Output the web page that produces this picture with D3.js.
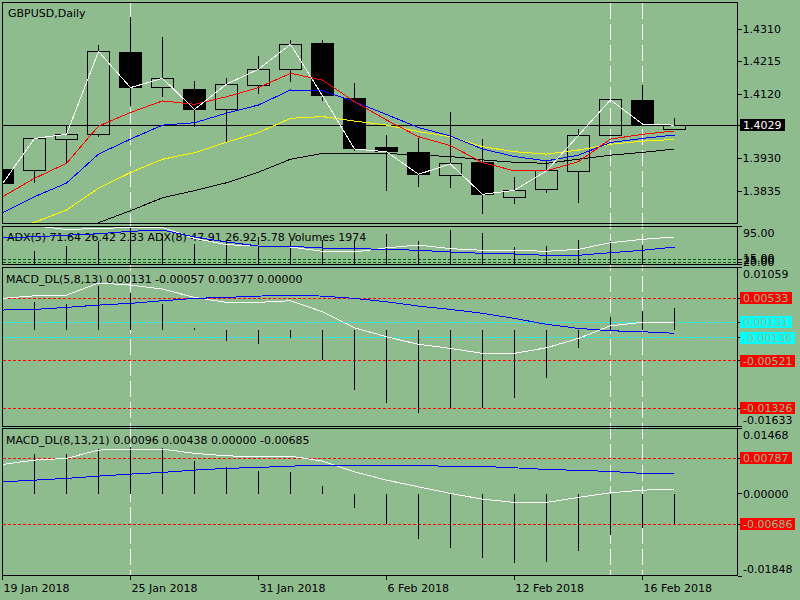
<!DOCTYPE html>
<html>
<head>
<meta charset="utf-8">
<script src="https://cdn.jsdelivr.net/npm/d3@7/dist/d3.min.js"></script>
<style>
  body { margin: 0; background: #8fbc8f; }
  svg { display: block; }
  text { font-family: "DejaVu Sans", sans-serif; font-size: 11px; }
</style>
</head>
<body>
<svg id="chart" width="800" height="600"></svg>
<script>
// GBPUSD daily bars
const dates = ["19 Jan 2018", "22 Jan 2018", "23 Jan 2018", "24 Jan 2018", "25 Jan 2018", "26 Jan 2018",
  "29 Jan 2018", "30 Jan 2018", "31 Jan 2018", "1 Feb 2018", "2 Feb 2018", "5 Feb 2018", "6 Feb 2018",
  "7 Feb 2018", "8 Feb 2018", "9 Feb 2018", "12 Feb 2018", "13 Feb 2018", "14 Feb 2018", "15 Feb 2018",
  "16 Feb 2018", "19 Feb 2018"];
const open  = [1.3898, 1.3895, 1.3988, 1.4002, 1.4243, 1.4139, 1.4134, 1.4075, 1.4145, 1.4193, 1.4269,
  1.4106, 1.3962, 1.3949, 1.3881, 1.3918, 1.3817, 1.3841, 1.3894, 1.3999, 1.4100, 1.4017];
const high  = [1.3900, 1.3990, 1.4026, 1.4264, 1.4347, 1.4288, 1.4158, 1.4166, 1.4232, 1.4279, 1.4279,
  1.4153, 1.4000, 1.3992, 1.4067, 1.3988, 1.3876, 1.3927, 1.4018, 1.4105, 1.4147, 1.4051];
const low   = [1.3855, 1.3858, 1.3917, 1.3995, 1.4085, 1.4112, 1.4024, 1.3980, 1.4120, 1.4156, 1.4101,
  1.3954, 1.3837, 1.3849, 1.3846, 1.3768, 1.3797, 1.3831, 1.3800, 1.3997, 1.4030, 1.4017];
const close = [1.3857, 1.3990, 1.4002, 1.4245, 1.4139, 1.4166, 1.4075, 1.4149, 1.4193, 1.4266, 1.4115,
  1.3959, 1.3951, 1.3885, 1.3915, 1.3826, 1.3838, 1.3895, 1.3999, 1.4103, 1.4032, 1.4029];

// moving averages on the price pane
const maRed    = [1.3819, 1.3873, 1.3917, 1.4026, 1.4066, 1.4100, 1.4090, 1.4112, 1.4139, 1.4181, 1.4161,
  1.4098, 1.4044, 1.3995, 1.3969, 1.3919, 1.3895, 1.3895, 1.3922, 1.3988, 1.4002, 1.4012];
const maBlue   = [1.3772, 1.3819, 1.3859, 1.3944, 1.3988, 1.4029, 1.4036, 1.4064, 1.4088, 1.4132, 1.4130,
  1.4098, 1.4060, 1.4022, 1.3997, 1.3959, 1.3937, 1.3924, 1.3941, 1.3978, 1.3990, 1.4000];
const maYellow = [1.3716, 1.3744, 1.3780, 1.3844, 1.3890, 1.3929, 1.3948, 1.3979, 1.4007, 1.4049, 1.4054,
  1.4041, 1.4029, 1.4010, 1.3995, 1.3966, 1.3951, 1.3944, 1.3956, 1.3973, 1.3982, 1.3987];
const maBlack  = [null, null, null, 1.3743, 1.3778, 1.3816, 1.3837, 1.3860, 1.3891, 1.3929, 1.3946,
  1.3946, 1.3946, 1.3941, 1.3937, 1.3927, 1.3920, 1.3917, 1.3929, 1.3941, 1.3949, 1.3959];

// ADX / volumes pane
const adx5 = [97.5, 96.5, 88.7, 90.8, 92.9, 92.9, 70.0, 56.7, 54.0, 51.8, 42.8, 41.3, 50.0, 56.0, 48.3,
  44.9, 44.9, 42.8, 47.0, 60.9, 68.0, 73.0];
const adx8 = [70.8, 73.5, 76.5, 79.8, 84.9, 87.6, 72.9, 62.4, 53.9, 53.3, 49.7, 48.3, 47.0, 44.9, 41.3,
  38.6, 37.1, 34.4, 34.4, 39.8, 44.9, 51.8];
const volumes = [26000, 16400, 22600, 28700, 46000, 37000, 25400, 28700, 33700, 28700, 29600, 30800,
  37000, 28700, 42300, 38300, 21300, 22600, 30800, 28700, 23800, 1974];

// MACD_DL(5,8,13)
const macd1Main = [0.00532, 0.00576, 0.00588, 0.00791, 0.00757, 0.00690, 0.00549, 0.00465, 0.00465,
  0.00492, 0.00306, 0.00035, -0.00117, -0.00245, -0.00313, -0.00397, -0.00397, -0.00303, -0.00144,
  0.00069, 0.00127, 0.00131];
const macd1Signal = [0.00335, 0.00346, 0.00380, 0.00419, 0.00448, 0.00492, 0.00532, 0.00549, 0.00571,
  0.00583, 0.00571, 0.00532, 0.00475, 0.00402, 0.00346, 0.00279, 0.00194, 0.00093, 0.00025,
  -0.00015, -0.00032, -0.00057];
const macd1Hist = [0.0039, 0.00475, 0.00431, 0.00745, 0.00617, 0.00431, 0.0003, -0.00189, -0.00240,
  -0.00134, -0.00510, -0.01017, -0.01232, -0.01401, -0.01317, -0.01327, -0.01148, -0.00810, -0.00303,
  0.00221, 0.00318, 0.00377];

// MACD_DL(8,13,21)
const macd2Main = [0.00652, 0.00749, 0.00787, 0.00973, 0.00996, 0.00996, 0.00899, 0.00845, 0.00823,
  0.00839, 0.00726, 0.00487, 0.00300, 0.00150, 0.00002, -0.00126, -0.00200, -0.00200, -0.00087,
  0.00016, 0.00076, 0.00096];
const macd2Signal = [0.00262, 0.00300, 0.00339, 0.00390, 0.00435, 0.00473, 0.00525, 0.00563, 0.00585,
  0.00614, 0.00630, 0.00630, 0.00630, 0.00630, 0.00608, 0.00608, 0.00576, 0.00540, 0.00518, 0.00496,
  0.00451, 0.00438];
const macd2Hist = [0.0078, 0.00877, 0.00877, 0.00996, 0.01047, 0.01011, 0.00726, 0.00585, 0.00502,
  0.00473, 0.00166, -0.00334, -0.00686, -0.01029, -0.01217, -0.01455, -0.01567, -0.01531, -0.01285,
  -0.00933, -0.00783, -0.00685];

// scales, levels and labels
const priceRange = [1.3742, 1.4390];
const priceTicks = [1.4310, 1.4215, 1.4120, 1.3930, 1.3835];
const adxRange = [15, 95];
const adxLevels = [25, 20];
const macd1Range = [-0.01633, 0.01059];
const macd1RedLevels = [0.00533, -0.00521, -0.01326];
const macd1CyanLevels = [0.00131, -0.00136];
const macd2Range = [-0.01848, 0.01468];
const macd2RedLevels = [0.00787, -0.00686];
const markerBars = [4, 19, 20];
const dateTicks = [0, 4, 8, 12, 16, 20];

const titleMain = "GBPUSD,Daily";
const titleAdx = "ADX(5) 71.64 26.42 2.33 ADX(8) 47.91 26.92 5.78 Volumes 1974";
const titleMacd1 = "MACD_DL(5,8,13) 0.00131 -0.00057 0.00377 0.00000";
const titleMacd2 = "MACD_DL(8,13,21) 0.00096 0.00438 0.00000 -0.00685";

const bg = "#8fbc8f";
const L = 2.5, R = 737.5;
const panes = {
  main:  {top: 2.5,   bottom: 223.5},
  adx:   {top: 226.5, bottom: 264.5},
  macd1: {top: 267.5, bottom: 426.5},
  macd2: {top: 428.5, bottom: 575.5}
};

const svg = d3.select("#chart").attr("shape-rendering", "crispEdges");
svg.append("rect").attr("width", 800).attr("height", 600).attr("fill", bg);

const x = d3.scaleLinear().domain([0, dates.length - 1]).range([2.5, 2.5 + 32 * (dates.length - 1)]);
const yMain = d3.scaleLinear().domain(priceRange).range([223, 2]);
const yAdx = d3.scaleLinear().domain(adxRange).range([264.5, 226.5]);
const yVol = d3.scaleLinear().domain([0, d3.max(volumes)]).range([264.5, 227.2]);
const yM1 = d3.scaleLinear().domain(macd1Range).range([426.5, 267.2]);
const yM2 = d3.scaleLinear().domain(macd2Range).range([576, 428]);

const bars = d3.range(dates.length);
const defs = svg.append("defs");
Object.entries(panes).forEach(([id, p]) => {
  defs.append("clipPath").attr("id", "clip-" + id)
    .append("rect").attr("x", L).attr("y", p.top).attr("width", R - L).attr("height", p.bottom - p.top);
});

// vertical dashed markers through all panes
svg.append("g").selectAll("line").data(markerBars).join("line")
  .attr("x1", d => x(d)).attr("x2", d => x(d))
  .attr("y1", panes.main.top).attr("y2", panes.macd2.bottom)
  .attr("stroke", "#fff").attr("stroke-dasharray", "16,5");

// pane titles
[[titleMain, 8, 17], [titleAdx, 7, 241], [titleMacd1, 6, 282.5], [titleMacd2, 6, 444]].forEach(t => {
  svg.append("text").attr("x", t[1]).attr("y", t[2]).attr("fill", "#000").text(t[0]);
});

function hLevels(g, levels, scale, color) {
  g.selectAll(null).data(levels).join("line")
    .attr("x1", L).attr("x2", R)
    .attr("y1", d => scale(d)).attr("y2", d => scale(d))
    .attr("stroke", color).attr("stroke-dasharray", "3,2");
}
function seriesLine(g, values, scale, color) {
  const line = d3.line().defined(d => values[d] != null).x(d => x(d)).y(d => scale(values[d]));
  g.append("path").attr("d", line(bars)).attr("fill", "none").attr("stroke", color);
}
function histogram(g, values, scale) {
  g.selectAll(null).data(bars).join("line")
    .attr("x1", d => x(d)).attr("x2", d => x(d))
    .attr("y1", scale(0)).attr("y2", d => scale(values[d]))
    .attr("stroke", "#000");
}

// ---- price pane
const gMain = svg.append("g").attr("clip-path", "url(#clip-main)");
const last = close[close.length - 1];
gMain.append("line").attr("x1", L).attr("x2", R)
  .attr("y1", yMain(last)).attr("y2", yMain(last)).attr("stroke", "#000");

const bodyTop = i => yMain(Math.max(open[i], close[i]));
const bodyBot = i => yMain(Math.min(open[i], close[i]));
gMain.selectAll("line.wick-hi").data(bars).join("line").attr("class", "wick-hi")
  .attr("x1", i => x(i)).attr("x2", i => x(i))
  .attr("y1", i => yMain(high[i])).attr("y2", bodyTop).attr("stroke", "#000");
gMain.selectAll("line.wick-lo").data(bars).join("line").attr("class", "wick-lo")
  .attr("x1", i => x(i)).attr("x2", i => x(i))
  .attr("y1", bodyBot).attr("y2", i => yMain(low[i])).attr("stroke", "#000");
gMain.selectAll("rect.body").data(bars).join("rect").attr("class", "body")
  .attr("x", i => x(i) - 11).attr("width", 22)
  .attr("y", bodyTop)
  .attr("height", i => Math.max(1, bodyBot(i) - bodyTop(i)))
  .attr("fill", i => close[i] < open[i] ? "#000" : "none")
  .attr("stroke", "#000");

seriesLine(gMain, maBlack, yMain, "#000");
seriesLine(gMain, maYellow, yMain, "#ffff00");
seriesLine(gMain, maBlue, yMain, "#0000ff");
seriesLine(gMain, maRed, yMain, "#ff0000");
seriesLine(gMain, close, yMain, "#fff");

// ---- ADX pane
const gAdx = svg.append("g").attr("clip-path", "url(#clip-adx)");
hLevels(gAdx, adxLevels, yAdx, "#006000");
histogram(gAdx, volumes, yVol);
seriesLine(gAdx, adx5, yAdx, "#fff");
seriesLine(gAdx, adx8, yAdx, "#0000ff");

// ---- MACD panes
const gM1 = svg.append("g").attr("clip-path", "url(#clip-macd1)");
hLevels(gM1, macd1RedLevels, yM1, "#ff0000");
hLevels(gM1, macd1CyanLevels, yM1, "#00ffff");
histogram(gM1, macd1Hist, yM1);
seriesLine(gM1, macd1Main, yM1, "#fff");
seriesLine(gM1, macd1Signal, yM1, "#0000ff");

const gM2 = svg.append("g").attr("clip-path", "url(#clip-macd2)");
hLevels(gM2, macd2RedLevels, yM2, "#ff0000");
histogram(gM2, macd2Hist, yM2);
seriesLine(gM2, macd2Main, yM2, "#fff");
seriesLine(gM2, macd2Signal, yM2, "#0000ff");

// pane frames
Object.values(panes).forEach(p => {
  svg.append("rect").attr("x", L).attr("y", p.top).attr("width", R - L).attr("height", p.bottom - p.top)
    .attr("fill", "none").attr("stroke", "#000");
});

// ---- right axes
function plainAxis(g) {
  g.attr("font-family", null).attr("font-size", null);
  g.select(".domain").remove();
  g.selectAll(".tick line").attr("stroke", "#000");
  g.selectAll(".tick text").attr("fill", "#000");
}
svg.append("g").attr("transform", `translate(${R},0)`)
  .call(d3.axisRight(yMain).tickValues(priceTicks.concat([last])).tickSize(4).tickPadding(1)
    .tickFormat(d => d.toFixed(4)).offset(0))
  .call(plainAxis)
  .call(g => g.selectAll(".tick").filter(d => d === last).select("text").remove());

function sideLabel(yc, txt, fill, color) {
  const g = svg.append("g");
  const t = g.append("text").attr("x", 743).attr("y", yc + 4).attr("fill", color || "#000").text(txt);
  if (fill) {
    const w = t.node().getComputedTextLength();
    g.insert("rect", "text").attr("x", 740).attr("y", yc - 6).attr("width", w + 6).attr("height", 12)
      .attr("fill", fill);
  }
}
sideLabel(yMain(last), last.toFixed(4), "#000", "#fff");

function paneAxis(scale, p, range, levels, fmt) {
  const vals = range.concat(levels.map(l => l.v));
  svg.append("g").attr("transform", `translate(${R},0)`)
    .call(d3.axisRight(scale).tickValues(vals).tickSize(4).tickFormat("").offset(0))
    .call(plainAxis);
  sideLabel(p.top + 6.5, fmt(range[1]));
  sideLabel(p.bottom - 6.5, fmt(range[0]));
  levels.forEach(l => sideLabel(scale(l.v), fmt(l.v), l.fill, l.fill ? bg : "#000"));
}
paneAxis(yAdx, panes.adx, adxRange, adxLevels.map(v => ({v})), v => v.toFixed(2));
paneAxis(yM1, panes.macd1, macd1Range,
  macd1RedLevels.map(v => ({v, fill: "#ff0000"})).concat(macd1CyanLevels.map(v => ({v, fill: "#00ffff"}))),
  v => v.toFixed(5));
paneAxis(yM2, panes.macd2, macd2Range,
  macd2RedLevels.map(v => ({v, fill: "#ff0000"})).concat([{v: 0}]),
  v => v.toFixed(5));

// ---- date axis
svg.append("g").attr("transform", `translate(0,${panes.macd2.bottom})`)
  .call(d3.axisBottom(x).tickValues(dateTicks).tickSize(4).tickFormat(i => dates[i]).offset(0))
  .call(plainAxis)
  .call(g => g.selectAll(".tick text").attr("text-anchor", "start").attr("x", 1).attr("y", 8.5));
</script>
</body>
</html>
